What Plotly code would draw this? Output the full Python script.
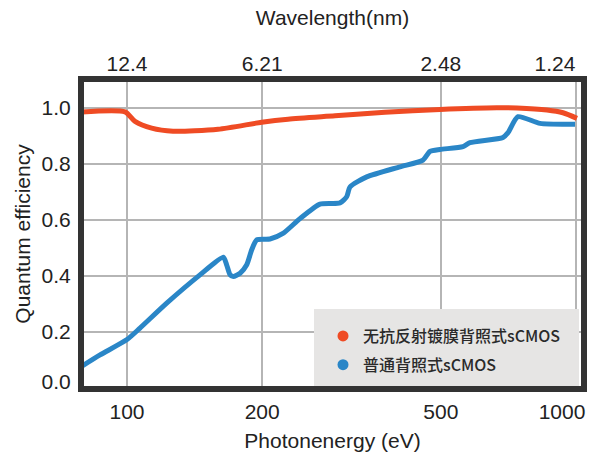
import plotly.graph_objects as go

# Photon energy (eV) and quantum efficiency
energy_ar = [79.4, 99.0, 104.2, 113.5, 126.6, 159.5, 199.6, 228.4, 290.6, 375.5,
             497.9, 666.8, 738.8, 861.7, 935.5, 1005]
qe_ar = [0.986, 0.986, 0.952, 0.928, 0.917, 0.924, 0.949, 0.960, 0.972, 0.985,
         0.995, 1.001, 1.000, 0.993, 0.983, 0.963]

energy_std = [79.4, 87.1, 100, 106.9, 122.6, 145.4, 163.9, 166.7, 169.6, 172.5,
              178.6, 184.8, 189.5, 194.5, 208.2, 222.5, 242.8, 269.0, 298.1, 308.5,
              313.8, 341.9, 405.5, 456.3, 473.0, 497.9, 560.2, 580.6, 687.8, 705.6,
              742.6, 831.4, 995]
qe_std = [0.078, 0.118, 0.173, 0.214, 0.303, 0.404, 0.467, 0.440, 0.405, 0.398,
          0.410, 0.440, 0.493, 0.529, 0.532, 0.552, 0.605, 0.657, 0.661, 0.683,
          0.718, 0.754, 0.790, 0.814, 0.845, 0.852, 0.862, 0.876, 0.895, 0.912,
          0.969, 0.945, 0.942]

energy_ticks = [100, 200, 500, 1000]
energy_labels = ["100", "200", "500", "1000"]
wavelength_labels = ["12.4", "6.21", "2.48", "1.24"]
qe_ticks = [0.0, 0.2, 0.4, 0.6, 0.8, 1.0]

series_names = ["无抗反射镀膜背照式sCMOS", "普通背照式sCMOS"]
RED = "#EF4B24"
BLUE = "#2A86C7"
FONT = "Liberation Sans, Arial, sans-serif"
TXT = "#222222"
FS = 21
GRID = "#b5b5b5"
FRAME = "#333333"

# label placement: edge labels are nudged inward (in px) to stay inside the picture
PX_PER_DECADE = 449.0
bottom_label_pos = [v * 10 ** (-(14 if v == energy_ticks[-1] else 0) / PX_PER_DECADE)
                    for v in energy_ticks]
top_label_pos = [v * 10 ** (-(21 if v == energy_ticks[-1] else 0) / PX_PER_DECADE)
                 for v in energy_ticks]
y_label_pos = [v + (0.022 if v == 0 else 0) for v in qe_ticks]

fig = go.Figure()
fig.add_trace(go.Scatter(x=energy_ar, y=qe_ar, mode="lines",
                         line=dict(color=RED, width=5, shape="spline", smoothing=0.7),
                         showlegend=False, hoverinfo="skip"))
fig.add_trace(go.Scatter(x=energy_std, y=qe_std, mode="lines",
                         line=dict(color=BLUE, width=5, shape="spline", smoothing=0.6),
                         showlegend=False, hoverinfo="skip"))
for name, col, grp in [(series_names[0], RED, "a"), (series_names[1], BLUE, "b")]:
    fig.add_trace(go.Scatter(x=[None], y=[None], mode="markers", name=name,
                             legendgroup=grp,
                             marker=dict(color=col, size=11, symbol="circle")))
fig.add_trace(go.Scatter(x=energy_ticks, y=[None] * len(energy_ticks), xaxis="x2",
                         mode="lines", showlegend=False, hoverinfo="skip"))

xr = [1.8998, 3.0156]
fig.update_layout(
    template="none",
    width=590, height=462, autosize=False,
    margin=dict(l=82, r=7, t=80, b=74),
    paper_bgcolor="white", plot_bgcolor="white",
    font=dict(family=FONT, size=FS, color=TXT),
    hovermode=False,
    xaxis=dict(type="log", range=xr, tickmode="array",
               tickvals=bottom_label_pos, ticktext=energy_labels,
               showgrid=False,
               minor=dict(tickmode="array", tickvals=energy_ticks, showgrid=True,
                          gridcolor=GRID, gridwidth=1.5, ticks=""),
               showline=True, mirror=True, linecolor=FRAME, linewidth=4,
               ticks="", ticklabelstandoff=2, automargin=False,
               tickfont=dict(size=FS, color=TXT),
               title=dict(text="Photonenergy (eV)", font=dict(size=FS, color=TXT), standoff=12),
               zeroline=False),
    xaxis2=dict(type="log", range=xr, overlaying="x", side="top", anchor="y",
                tickmode="array", tickvals=top_label_pos, ticktext=wavelength_labels,
                showgrid=False, showline=False, ticks="", ticklabelstandoff=4,
                automargin=False,
                tickfont=dict(size=FS, color=TXT),
                title=dict(text="Wavelength(nm)", font=dict(size=FS, color=TXT), standoff=20),
                zeroline=False),
    yaxis=dict(range=[0, 1.1], tickmode="array", tickvals=y_label_pos,
               ticktext=[f"{v:.1f}" for v in qe_ticks],
               showgrid=False,
               minor=dict(tickmode="array", tickvals=qe_ticks, showgrid=True,
                          gridcolor=GRID, gridwidth=1.5, ticks=""),
               showline=True, mirror=True, linecolor=FRAME, linewidth=4,
               ticks="", ticklabelstandoff=3, automargin=False,
               tickfont=dict(size=FS, color=TXT),
               title=dict(text="Quantum efficiency", font=dict(size=FS, color=TXT), standoff=6),
               zeroline=False),
    legend=dict(x=(323 - 82) / 501, y=(388 - 319) / 308, xanchor="left", yanchor="top",
                bgcolor="rgba(0,0,0,0)", borderwidth=0, tracegroupgap=5,
                font=dict(family="Noto Sans CJK SC", size=16, color="#2a2a2a", weight=500)),
    shapes=[dict(type="rect", xref="paper", yref="paper", layer="above",
                 x0=(314 - 82) / 501, x1=(579 - 82) / 501,
                 y0=(388 - 386) / 308, y1=(388 - 309) / 308,
                 fillcolor="#e6e5e4", line=dict(width=0)),
            dict(type="rect", xref="paper", yref="paper", layer="above",
                 x0=0, x1=1, y0=0, y1=1,
                 line=dict(color=FRAME, width=4), fillcolor="rgba(0,0,0,0)")],
)

fig.write_html("out.html", config={"displayModeBar": False},
               post_script="document.body.style.margin='0';document.body.style.overflow='hidden';")
